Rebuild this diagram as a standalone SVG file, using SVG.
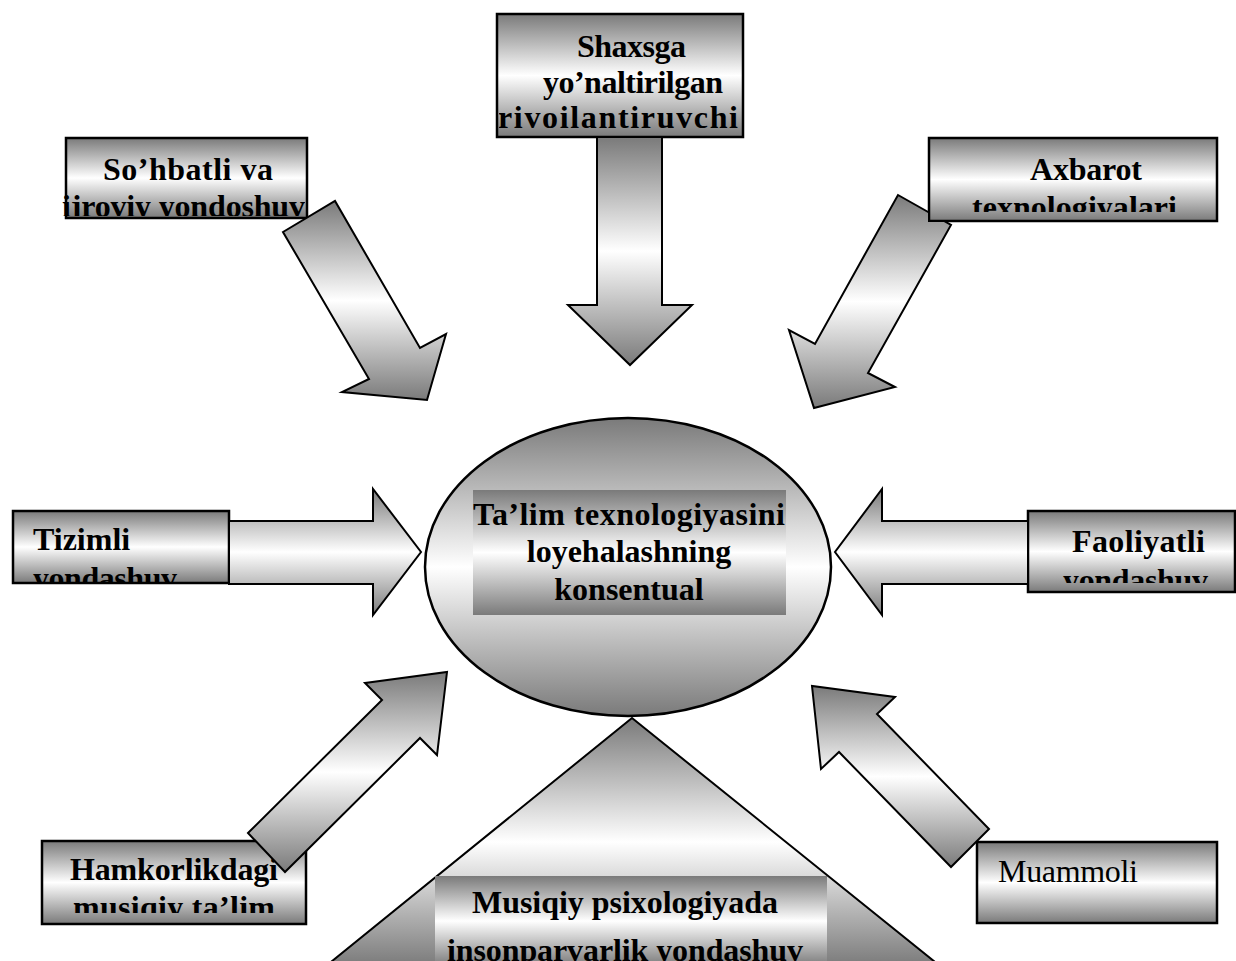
<svg xmlns="http://www.w3.org/2000/svg" width="1236" height="961" viewBox="0 0 1236 961">
<style>
.box{fill:url(#pipe);stroke:#000;stroke-width:2.5}
.arrow{fill:url(#pipe);stroke:#000;stroke-width:2;stroke-linejoin:miter}
.t{font-family:"Liberation Serif","Times New Roman",serif;font-size:32px;font-weight:bold;fill:#000}
.r{font-family:"Liberation Serif","Times New Roman",serif;font-size:32px;fill:#000}
</style>
<defs>
<linearGradient id="pipe" x1="0" y1="0" x2="0" y2="1">
<stop offset="0" stop-color="#7a7a7a"/>
<stop offset="0.5" stop-color="#ffffff"/>
<stop offset="1" stop-color="#7a7a7a"/>
</linearGradient>
<clipPath id="c1"><rect x="499" y="16" width="242" height="119"/></clipPath>
<clipPath id="c2"><rect x="62" y="140" width="243" height="76"/></clipPath>
<clipPath id="c3"><rect x="931" y="140" width="284" height="72"/></clipPath>
<clipPath id="c4"><rect x="15" y="513" width="212" height="69"/></clipPath>
<clipPath id="c5"><rect x="1030" y="513" width="204" height="70"/></clipPath>
<clipPath id="c6"><rect x="44" y="843" width="260" height="70"/></clipPath>
<clipPath id="c8"><rect x="435" y="876" width="392" height="85"/></clipPath>
</defs>
<rect width="1236" height="961" fill="#fff"/>

<g id="center">
<ellipse cx="628" cy="567" rx="203" ry="149" fill="url(#pipe)" stroke="#000" stroke-width="2.5"/>
<rect x="473" y="490" width="313" height="125" fill="url(#pipe)"/>
<text class="t" x="473" y="525" textLength="312" lengthAdjust="spacing">Ta’lim  texnologiyasini</text>
<text class="t" x="629" y="562" text-anchor="middle">loyehalashning</text>
<text class="t" x="629" y="600" text-anchor="middle">konsentual</text>
</g>

<g id="musiqiy">
<polygon points="632,718 326,966 940,966" fill="url(#pipe)" stroke="#000" stroke-width="2"/>
<rect x="435" y="876" width="392" height="90" fill="url(#pipe)"/>
<g clip-path="url(#c8)">
<text class="t" x="472" y="913" textLength="306" lengthAdjust="spacing">Musiqiy psixologiyada</text>
<text class="t" x="447" y="961" textLength="356" lengthAdjust="spacing">insonparvarlik yondashuv</text>
</g>
</g>

<g id="shaxsga">
<rect class="box" x="497" y="14" width="246" height="123"/>
<g clip-path="url(#c1)">
<text class="t" x="577" y="57" textLength="109" lengthAdjust="spacing">Shaxsga</text>
<text class="t" x="543" y="93" textLength="180" lengthAdjust="spacing">yo’naltirilgan</text>
<text class="t" x="498" y="128" textLength="240" lengthAdjust="spacing">rivoilantiruvchi</text>
</g>
</g>

<g id="sohbatli">
<rect class="box" x="66" y="138" width="241" height="80"/>
<g clip-path="url(#c2)">
<text class="t" x="103" y="180" textLength="170" lengthAdjust="spacing">So’hbatli  va</text>
<text class="t" x="62" y="217" textLength="243" lengthAdjust="spacing">ijroviy  yondoshuv</text>
</g>
</g>

<g id="axbarot">
<rect class="box" x="929" y="138" width="288" height="83"/>
<g clip-path="url(#c3)">
<text class="t" x="1030" y="180" textLength="112" lengthAdjust="spacing">Axbarot</text>
<text class="t" x="972" y="218" textLength="205" lengthAdjust="spacing">texnologiyalari</text>
</g>
</g>

<g id="tizimli">
<rect class="box" x="13" y="511" width="216" height="72"/>
<g clip-path="url(#c4)">
<text class="t" x="33" y="550">Tizimli</text>
<text class="t" x="33" y="589" textLength="144" lengthAdjust="spacing">yondashuv</text>
</g>
</g>

<g id="faoliyatli">
<rect class="box" x="1028" y="511" width="207" height="81"/>
<g clip-path="url(#c5)">
<text class="t" x="1072" y="552" textLength="133" lengthAdjust="spacing">Faoliyatli</text>
<text class="t" x="1063" y="591" textLength="145" lengthAdjust="spacing">yondashuv</text>
</g>
</g>

<g id="hamkorlikdagi">
<rect class="box" x="42" y="841" width="264" height="83"/>
<g clip-path="url(#c6)">
<text class="t" x="70" y="880" textLength="208" lengthAdjust="spacing">Hamkorlikdagi</text>
<text class="t" x="73" y="918" textLength="202" lengthAdjust="spacing">musiqiy  ta’lim</text>
</g>
</g>

<g id="muammoli">
<rect class="box" x="977" y="842" width="240" height="81"/>
<text class="r" x="998" y="882" textLength="140" lengthAdjust="spacing">Muammoli</text>
</g>

<g id="connectors">
<polygon class="arrow" points="597,137 662,137 662,305 692,305 630,365 568,305 597,305"/>
<polygon class="arrow" points="283,232 335,201 420,348 446,334 427,400 342,392 369,379"/>
<polygon class="arrow" points="898,195 929,212.5 929,221 944,221 951,225 868,373 895,387 814,408 789,330 815,344"/>
<polygon class="arrow" points="229,521 373,521 373,489 421,552 373,615 373,584 229,584"/>
<polygon class="arrow" points="1028,521 882,521 882,489 835,552 882,615 882,584 1028,584"/>
<polygon class="arrow" points="248,833 382,700 365,683 447,672 437,755 420,738 285,872"/>
<polygon class="arrow" points="951,867 839,752 821,769 812,686 895,697 877,714 989,829"/>
</g>
</svg>
